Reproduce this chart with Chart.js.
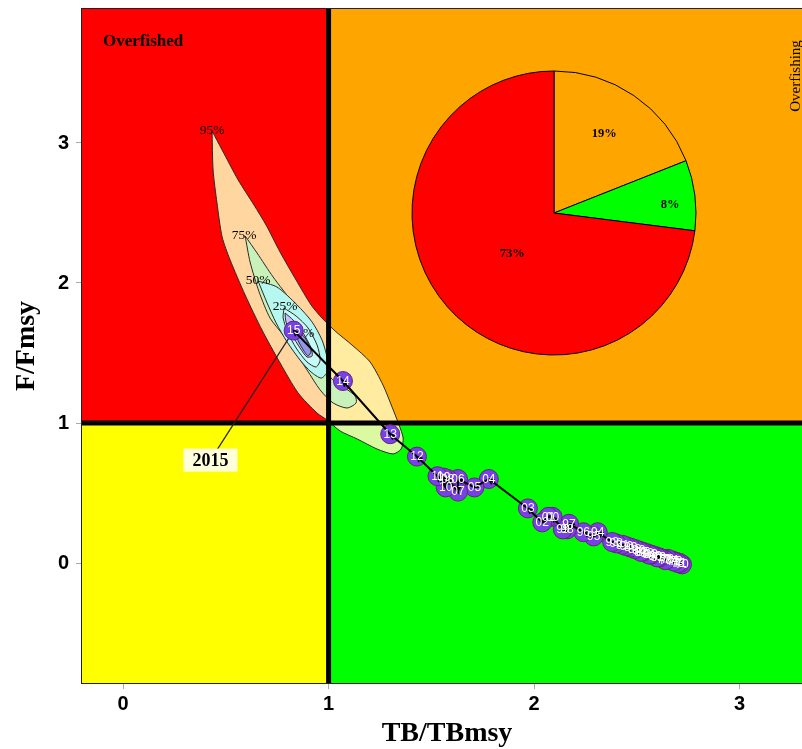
<!DOCTYPE html>
<html><head><meta charset="utf-8">
<script src="https://cdn.jsdelivr.net/npm/chart.js@4.4.0/dist/chart.umd.min.js"></script>
<style>
html,body{margin:0;padding:0;background:#fff;}
#wrap{position:relative;width:802px;height:749px;overflow:hidden;}
#main{position:absolute;left:0;top:0;}
#pie{position:absolute;left:404px;top:63px;}
</style></head><body>
<div id="wrap"><canvas id="main" width="802" height="749"></canvas><canvas id="pie" width="300" height="300"></canvas></div>
<script>
// ---------- data ----------
const years = [1970,1971,1972,1973,1974,1975,1976,1977,1978,1979,1980,1981,1982,1983,1984,1985,1986,1987,1988,1989,1990,1991,1992,
               1993,1994,1995,1996,1997,1998,1999,2000,2001,2002,2003,2004,2005,2006,2007,2008,2009,2010,2011,2012,2013,2014,2015];
const tbRatio = [2.72,2.71,2.69,2.70,2.67,2.68,2.65,2.63,2.64,2.61,2.59,2.60,2.57,2.55,2.56,2.53,2.51,2.52,2.49,2.47,2.45,2.43,2.40,
                 2.38,2.31,2.29,2.24,2.17,2.16,2.14,2.09,2.07,2.04,1.97,1.78,1.71,1.63,1.63,1.58,1.56,1.57,1.53,1.43,1.30,1.07,0.83];
const fRatio  = [-0.01,0.00,0.01,0.00,0.02,0.01,0.03,0.03,0.02,0.04,0.05,0.04,0.06,0.07,0.06,0.08,0.09,0.08,0.10,0.11,0.12,0.13,0.14,
                 0.15,0.22,0.19,0.22,0.28,0.24,0.24,0.33,0.33,0.29,0.39,0.60,0.54,0.60,0.51,0.60,0.61,0.54,0.62,0.76,0.92,1.30,1.66];
const xTicks = [0,1,2,3];
const yTicks = [0,1,2,3];
const refPoint = [1,1];

const contour95X = [0.433,0.482,0.560,0.637,0.696,0.764,0.842,0.915,0.968,1.032,1.114,1.202,1.265,1.309,1.343,1.363,1.353,1.314,1.236,1.139,1.056,0.993,0.944,0.852,0.764,0.676,0.594,0.521,0.482,0.457,0.438,0.433];
const contour95Y = [3.086,2.950,2.736,2.557,2.414,2.221,2.021,1.843,1.750,1.657,1.557,1.436,1.271,1.114,0.986,0.893,0.814,0.779,0.814,0.886,0.943,1.021,1.071,1.214,1.429,1.664,1.914,2.164,2.329,2.571,2.807,3.086];
const contour75X = [0.594,0.652,0.730,0.827,0.910,0.954,0.983,1.012,1.080,1.129,1.134,1.090,1.022,0.959,0.895,0.837,0.779,0.715,0.662,0.618,0.594];
const contour75Y = [2.336,2.214,2.043,1.857,1.700,1.579,1.436,1.321,1.250,1.193,1.143,1.107,1.143,1.236,1.379,1.507,1.629,1.750,1.936,2.150,2.336];
const contour50X = [0.657,0.749,0.847,0.920,0.968,0.993,0.993,0.964,0.915,0.861,0.798,0.745,0.701,0.657];
const contour50Y = [2.014,1.971,1.843,1.721,1.593,1.464,1.364,1.321,1.364,1.450,1.579,1.714,1.857,2.014];
const contour25X = [0.783,0.842,0.900,0.944,0.959,0.939,0.895,0.842,0.803,0.779,0.783];
const contour25Y = [1.821,1.764,1.679,1.557,1.450,1.400,1.436,1.536,1.643,1.750,1.821];
const contour5X  = [0.788,0.827,0.876,0.915,0.920,0.895,0.861,0.822,0.793,0.788];
const contour5Y  = [1.786,1.736,1.643,1.536,1.479,1.471,1.536,1.629,1.721,1.786];
const contourCoreX = [0.852,0.886,0.915,0.900,0.871,0.847,0.852];
const contourCoreY = [1.657,1.607,1.514,1.479,1.536,1.607,1.657];
const contourLabels = ['95%','75%','50%','25%','5%'];

const pieLabels = ['Overfishing','Not overfished','Overfished'];
const pieValues = [19,8,73];

// ---------- helpers / styles ----------
const pts = (xs, ys) => xs.map((v,i)=>({x:v, y:ys[i]}));
const SERIF = '"Liberation Serif", "Times New Roman", serif';
const SANS = '"Liberation Sans", Arial, sans-serif';
const contourLabelAt = [[0.433,3.092],[0.589,2.343],[0.657,2.021],[0.788,1.836],[0.886,1.640]];
const lastLabelAt = [0.425, 0.735];

function contourDs(xs, ys, fillCol){
  return {data: pts(xs,ys), showLine:true, fill:'shape', backgroundColor:fillCol,
          borderColor:'#2a2a2a', borderWidth:1, pointRadius:0, tension:0.25, clip:0};
}
function noPad(s){ s.paddingTop = 0; s.paddingBottom = 0; s.paddingLeft = 0; s.paddingRight = 0; }

const kobePlugin = {
  id:'kobe',
  beforeDatasetsDraw(chart){
    const {ctx, chartArea:a, scales:{x,y}} = chart;
    const px = x.getPixelForValue(refPoint[0]), py = y.getPixelForValue(refPoint[1]);
    ctx.save();
    ctx.fillStyle='#FF0000'; ctx.fillRect(a.left,a.top,px-a.left,py-a.top);
    ctx.fillStyle='#FFA500'; ctx.fillRect(px,a.top,a.right-px,py-a.top);
    ctx.fillStyle='#FFFF00'; ctx.fillRect(a.left,py,px-a.left,a.bottom-py);
    ctx.fillStyle='#00FF00'; ctx.fillRect(px,py,a.right-px,a.bottom-py);
    ctx.restore();
  },
  beforeDatasetDraw(chart, args){
    const {ctx, scales:{x,y}} = chart;
    if(args.index === 3){
      ctx.save();
      ctx.font = '13.5px ' + SERIF; ctx.fillStyle='#000'; ctx.textAlign='center'; ctx.textBaseline='middle';
      contourLabels.forEach((t,i)=>{
        ctx.fillText(t, x.getPixelForValue(contourLabelAt[i][0]), y.getPixelForValue(contourLabelAt[i][1]));
      });
      ctx.restore();
    }
    if(args.index === 1){
      const meta = chart.getDatasetMeta(1);
      const last = meta.data[meta.data.length-1];
      const lx = x.getPixelForValue(lastLabelAt[0]), ly = y.getPixelForValue(lastLabelAt[1]);
      ctx.save();
      ctx.strokeStyle='#222'; ctx.lineWidth=1.2;
      ctx.beginPath(); ctx.moveTo(last.x,last.y); ctx.lineTo(lx,ly); ctx.stroke();
      ctx.font = 'bold 18px ' + SERIF;
      const txt = String(years[years.length-1]);
      const w = ctx.measureText(txt).width + 18;
      ctx.fillStyle='#FFFFDC';
      ctx.fillRect(lx - w/2, ly - 11.5, w, 23);
      ctx.fillStyle='#000'; ctx.textAlign='center'; ctx.textBaseline='middle';
      ctx.fillText(txt, lx, ly+1);
      ctx.restore();
    }
  },
  afterDatasetDraw(chart, args){
    if(args.index !== 0) return;
    const {ctx} = chart;
    const d = chart.getDatasetMeta(0).data;
    ctx.save();
    ctx.strokeStyle='#000'; ctx.lineWidth=1.5;
    for(let i=1;i<d.length;i++){
      const dx = d[i].x-d[i-1].x, dy = d[i].y-d[i-1].y;
      if(Math.hypot(dx,dy) < 3) continue;
      const ang = Math.atan2(dy,dx), L = 6;
      ctx.beginPath();
      ctx.moveTo(d[i].x - L*Math.cos(ang-0.45), d[i].y - L*Math.sin(ang-0.45));
      ctx.lineTo(d[i].x, d[i].y);
      ctx.lineTo(d[i].x - L*Math.cos(ang+0.45), d[i].y - L*Math.sin(ang+0.45));
      ctx.stroke();
    }
    ctx.restore();
  },
  afterDatasetsDraw(chart){
    const {ctx, chartArea:a} = chart;
    const meta = chart.getDatasetMeta(1);
    ctx.save();
    ctx.font = '12px ' + SANS; ctx.fillStyle='#fff'; ctx.textAlign='center'; ctx.textBaseline='middle';
    meta.data.forEach((p,i)=>{
      ctx.fillText(String(years[i]).slice(-2), p.x, p.y+0.5);
    });
    // plot border
    ctx.strokeStyle='#222'; ctx.lineWidth=1;
    ctx.strokeRect(a.left-0.5, a.top-0.5, a.right-a.left+1, a.bottom-a.top+1);
    // quadrant annotations
    ctx.fillStyle='#000';
    ctx.font = 'bold 17px ' + SERIF; ctx.textAlign='left'; ctx.textBaseline='middle';
    ctx.fillText('Overfished', a.left+21, a.top+33);
    ctx.save();
    ctx.translate(a.right-6, a.top+67);
    ctx.rotate(-Math.PI/2);
    ctx.font = '15px ' + SERIF; ctx.textAlign='center'; ctx.textBaseline='middle';
    ctx.fillText('Overfishing', 0, 0);
    ctx.restore();
    // axis titles
    ctx.font = 'bold 28px ' + SERIF; ctx.textAlign='center'; ctx.textBaseline='middle';
    ctx.fillText('TB/TBmsy', 447, 734);
    ctx.save();
    ctx.translate(27, (a.top+a.bottom)/2);
    ctx.rotate(-Math.PI/2);
    ctx.fillText('F/Fmsy', 0, 0);
    ctx.restore();
    ctx.restore();
  }
};

const trajectory = pts(tbRatio, fRatio);

new Chart(document.getElementById('main'), {
  type:'scatter',
  data:{datasets:[
    {data: trajectory, showLine:true, borderColor:'#000', borderWidth:2, pointRadius:0, tension:0},
    {data: trajectory, showLine:false, pointRadius:9.5, pointBackgroundColor:'#7642E6', pointBorderColor:'#6E1F7E', pointBorderWidth:1, pointHoverRadius:9.5},
    {data: [{x:-1,y:refPoint[1]},{x:5,y:refPoint[1]}], showLine:true, borderColor:'#000', borderWidth:5, pointRadius:0, clip:0},
    {data: [{x:refPoint[0],y:-2},{x:refPoint[0],y:6}], showLine:true, borderColor:'#000', borderWidth:5, pointRadius:0, clip:0},
    contourDs(contourCoreX, contourCoreY, '#9494EA'),
    contourDs(contour5X, contour5Y, '#C2C4FF'),
    contourDs(contour25X, contour25Y, '#C6FBF8'),
    contourDs(contour50X, contour50Y, '#B6F7F0'),
    contourDs(contour75X, contour75Y, '#C8F2BA'),
    contourDs(contour95X, contour95Y, 'rgba(255,248,186,0.86)')
  ]},
  options:{
    responsive:false, animation:false, events:[],
    layout:{autoPadding:false, padding:{top:9,right:0,left:0,bottom:0}},
    plugins:{legend:{display:false}, tooltip:{enabled:false}},
    scales:{
      x:{type:'linear', min:-0.2, max:3.304,
         afterBuildTicks:s=>{s.ticks = xTicks.map(v=>({value:v}));},
         afterFit:s=>{s.height = 66; noPad(s);},
         grid:{display:true, drawOnChartArea:false, drawTicks:true, tickLength:6, color:'#aaa'},
         border:{display:false},
         ticks:{color:'#000', font:{family:SANS, size:20, weight:'bold'}, padding:3, maxRotation:0}},
      y:{type:'linear', min:-0.857, max:3.957,
         afterBuildTicks:s=>{s.ticks = yTicks.map(v=>({value:v}));},
         afterFit:s=>{s.width = 82; noPad(s);},
         grid:{display:true, drawOnChartArea:false, drawTicks:true, tickLength:6, color:'#aaa'},
         border:{display:false},
         ticks:{color:'#000', font:{family:SANS, size:20, weight:'bold'}, padding:7}}
    }
  },
  plugins:[kobePlugin]
});

// ---------- pie inset ----------
const pieColors = ['#FFA500','#00FF00','#FF0000'];
const pieLabelRadius = [0.66, 0.82, 0.41];
const pieLabelAngle = [0.475, 0.61, 0.49];
const pieLabelPlugin = {
  id:'pieLabels',
  afterDatasetsDraw(chart){
    const {ctx} = chart;
    const meta = chart.getDatasetMeta(0);
    ctx.save();
    ctx.font = 'bold 12.5px ' + SERIF; ctx.fillStyle='#000'; ctx.textAlign='center'; ctx.textBaseline='middle';
    meta.data.forEach((arc,i)=>{
      const ang = arc.startAngle + (arc.endAngle - arc.startAngle) * pieLabelAngle[i];
      const r = arc.outerRadius * pieLabelRadius[i];
      ctx.fillText(pieValues[i] + '%', arc.x + Math.cos(ang)*r, arc.y + Math.sin(ang)*r);
    });
    ctx.restore();
  }
};
new Chart(document.getElementById('pie'), {
  type:'pie',
  data:{labels:pieLabels, datasets:[{data:pieValues, backgroundColor:pieColors, borderColor:'#000', borderWidth:1, hoverOffset:0}]},
  options:{responsive:false, animation:false, events:[], radius:142, layout:{padding:0},
           plugins:{legend:{display:false}, tooltip:{enabled:false}}},
  plugins:[pieLabelPlugin]
});
</script>
</body></html>
